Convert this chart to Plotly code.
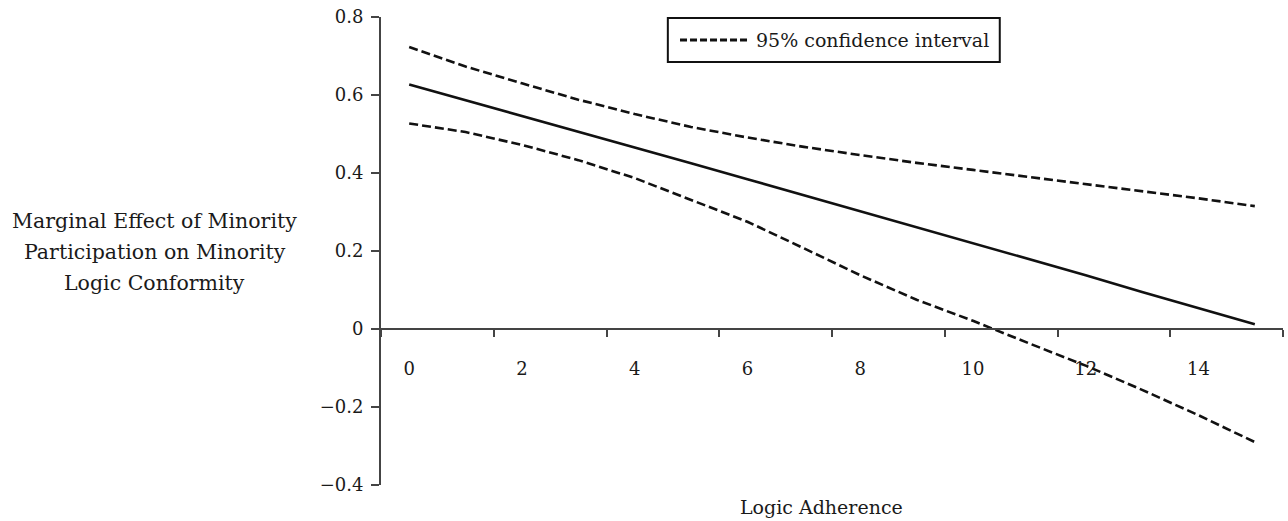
import plotly.graph_objects as go

# Data
logic_adherence = list(range(16))
marginal_effect = [0.627, 0.587, 0.547, 0.506, 0.465, 0.425, 0.384, 0.343,
                   0.302, 0.261, 0.220, 0.179, 0.138, 0.095, 0.053, 0.012]
upper_ci = [0.723, 0.673, 0.630, 0.588, 0.551, 0.518, 0.491, 0.467,
            0.446, 0.426, 0.408, 0.390, 0.372, 0.354, 0.335, 0.315]
lower_ci = [0.527, 0.505, 0.472, 0.433, 0.387, 0.331, 0.275, 0.207,
            0.138, 0.075, 0.021, -0.037, -0.094, -0.156, -0.221, -0.290]

x_tick_vals = [0, 2, 4, 6, 8, 10, 12, 14]
x_tick_text = ["0", "2", "4", "6", "8", "10", "12", "14"]
x_boundary_ticks = [-0.5, 1.5, 3.5, 5.5, 7.5, 9.5, 11.5, 13.5, 15.5]
y_tick_vals = [-0.4, -0.2, 0, 0.2, 0.4, 0.6, 0.8]
y_tick_text = ["\u22120.4", "\u22120.2", "0", "0.2", "0.4", "0.6", "0.8"]

y_title_lines = ["Marginal Effect of Minority", "Participation on Minority", "Logic Conformity"]
legend_label = "95% confidence interval"

FONT = "DejaVu Serif"
TXT = "#1a1a1a"
AX = "#444444"
INK = "#111111"

fig = go.Figure()
fig.add_trace(go.Scatter(x=logic_adherence, y=upper_ci, mode="lines",
                         line=dict(color=INK, width=2.6, dash="9px,4px"),
                         showlegend=False, hoverinfo="skip"))
fig.add_trace(go.Scatter(x=logic_adherence, y=lower_ci, mode="lines",
                         line=dict(color=INK, width=2.6, dash="9px,4px"),
                         showlegend=False, hoverinfo="skip"))
fig.add_trace(go.Scatter(x=logic_adherence, y=marginal_effect, mode="lines",
                         line=dict(color=INK, width=2.6),
                         showlegend=False, hoverinfo="skip"))

fig.update_layout(
    width=1288, height=521,
    margin=dict(l=381, r=5, t=17, b=36),
    paper_bgcolor="white", plot_bgcolor="white",
    font=dict(family=FONT, size=18, color=TXT),
    showlegend=False,
    xaxis=dict(
        range=[-0.5, 15.5], showgrid=False, zeroline=False, automargin=False,
        anchor="free", position=1/3,
        showline=True, linecolor=AX, linewidth=2,
        tickmode="array", tickvals=x_tick_vals, ticktext=x_tick_text,
        ticks="", ticklabelstandoff=23,
        tickfont=dict(family=FONT, size=18, color=TXT),
        minor=dict(tickmode="array", tickvals=x_boundary_ticks, ticks="outside",
                   ticklen=7, tickwidth=2, tickcolor=AX, showgrid=False),
    ),
    yaxis=dict(
        range=[-0.4, 0.8], showgrid=False, zeroline=False, automargin=False,
        showline=True, linecolor=AX, linewidth=2,
        tickmode="array", tickvals=y_tick_vals, ticktext=y_tick_text,
        ticks="outside", ticklen=8, tickwidth=2, tickcolor=AX,
        ticklabelstandoff=4, ticklabeloverflow="allow",
        tickfont=dict(family=FONT, size=18, color=TXT),
    ),
)

# Y-axis title (three horizontal lines)
for line, py in zip(y_title_lines, [0.564, 0.498, 0.432]):
    fig.add_annotation(text=line, xref="paper", yref="paper", x=-0.2506, y=py,
                       xanchor="center", yanchor="middle", showarrow=False,
                       font=dict(family=FONT, size=20.5, color=TXT))

# X-axis title
fig.add_annotation(text="Logic Adherence", xref="paper", yref="paper", x=0.488, y=-0.047,
                   xanchor="center", yanchor="middle", showarrow=False,
                   font=dict(family=FONT, size=19, color=TXT))

# Legend box: frame, dashed sample, label
fig.add_shape(type="rect", xref="paper", yref="paper", x0=0.318, x1=0.686, y0=0.904, y1=0.998,
              line=dict(color=INK, width=2), fillcolor="white", layer="above")
fig.add_shape(type="line", xref="paper", yref="paper", x0=0.3315, x1=0.4058, y0=0.951, y1=0.951,
              line=dict(color=INK, width=3, dash="7px,3px"), layer="above")
fig.add_annotation(text=legend_label, xref="paper", yref="paper", x=0.4135, y=0.951,
                   xanchor="left", yanchor="middle", showarrow=False,
                   font=dict(family=FONT, size=19, color=TXT))

fig.write_html("out.html",
               config={"displayModeBar": False},
               post_script="document.body.style.margin='0px';document.body.style.overflow='hidden';")
